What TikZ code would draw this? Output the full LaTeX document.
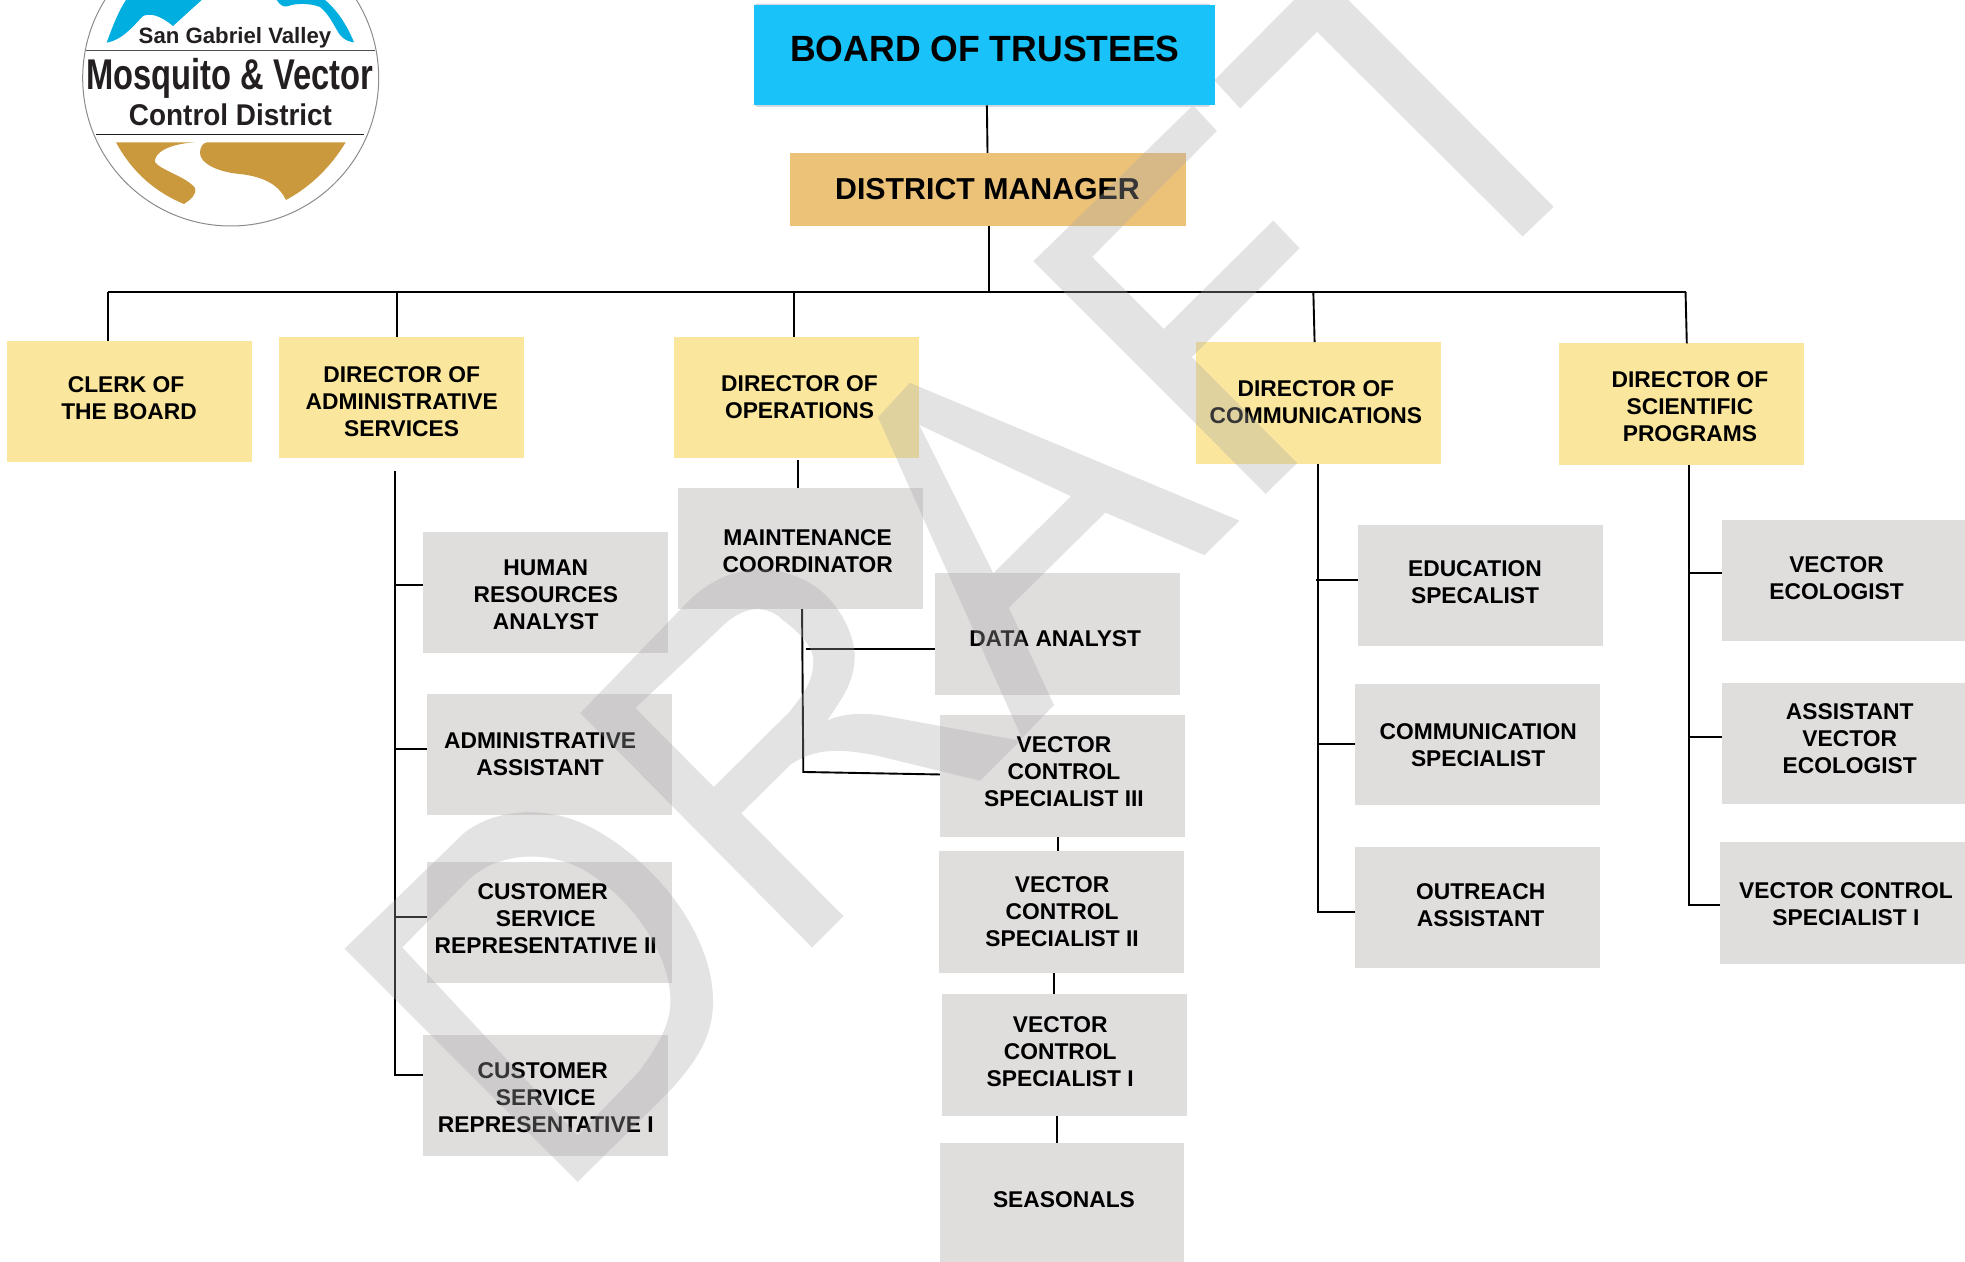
\documentclass[tikz,border=0pt]{standalone}
\usepackage{fontspec}
\setmainfont{Liberation Sans}
\definecolor{boardblue}{HTML}{19C3FA}
\definecolor{boardedge}{HTML}{CFD8E3}
\definecolor{mgrgold}{HTML}{ECC278}
\definecolor{diryellow}{HTML}{FAE69C}
\definecolor{staffgray}{HTML}{E0DDDD}
\definecolor{wmgray}{HTML}{A8A8A8}
\definecolor{logoblue}{HTML}{00AEDF}
\definecolor{logogold}{HTML}{CB993D}
\definecolor{logoink}{HTML}{231F20}
\tikzset{
  orgbase/.style={rectangle,inner sep=0pt,outer sep=0pt},
  boardbox/.style={orgbase,fill=boardblue},
  mgrbox/.style={orgbase,fill=mgrgold},
  dirbox/.style={orgbase,fill=diryellow},
  staffbox/.style={orgbase,fill=staffgray},
  lbl/.style={inner sep=0pt,align=center,yshift=-0.9pt,font=\bfseries\fontsize{22.8}{27}\selectfont,text=black},
  bigl/.style={lbl,font=\bfseries\fontsize{36.5}{40}\selectfont,xscale=.975},
  midl/.style={lbl,font=\bfseries\fontsize{30.3}{34}\selectfont},
  link/.style={draw=black,line width=1.9pt},
  buslink/.style={draw=black,line width=2.3pt},
  wm/.style={fill=wmgray,fill opacity=.32,even odd rule},
}
% name, x1,y1,x2,y2, box style, text style, tx,ty, text
\newcommand{\orgbox}[9]{%
  \pgfmathsetmacro{\bw}{(#4-#2)*1.2532}%
  \pgfmathsetmacro{\bh}{(#5-#3)*1.2532}%
  \pgfmathsetmacro{\bx}{(#2+#4)/2}%
  \pgfmathsetmacro{\by}{(#3+#5)/2}%
  \node[#6,minimum width=\bw pt,minimum height=\bh pt] (#1) at (\bx,\by) {};%
  \node[#7] (#1-t) at (#8,#9)}
\begin{document}
\begin{tikzpicture}[x=1.2532pt,y=-1.2532pt]
\useasboundingbox (0,0) rectangle (1568,1007);
\fill[white] (0,0) rectangle (1568,1007);

% logo (coordinates in reference pixels)
\begin{scope}[x=1pt,y=-1pt]
\clip (0,0) rectangle (500,300);
\node[circle,draw=black!45,line width=1pt,fill=white,minimum size=296pt,inner sep=0pt] (logo) at (230.7,78) {};
\fill[logoblue] (106.7,42.7) .. controls (121.7,40) and (131.7,28) .. (143,16)
  .. controls (150,13) and (160,15) .. (173,26) -- (201.7,0) -- (126,0) .. controls (118,12) and (112,28) .. (106.7,42.7) -- cycle;
\fill[logoblue] (276.7,0) .. controls (280,5) and (283,7) .. (287,6.5) .. controls (295,3) and (310,3) .. (320,7)
  .. controls (330,15) and (335,28) .. (340,35) .. controls (344,40) and (350,42) .. (354,42.3) .. controls (347,25) and (337,10) .. (325,0) -- cycle;
\fill[logogold] (116,142.3) -- (195,142.3) .. controls (168,144) and (154,153) .. (155,162)
  .. controls (160,170) and (187,177) .. (195,188) .. controls (197,195) and (190,200) .. (184,204)
  .. controls (155,192) and (132,172) .. (116,142.3) -- cycle;
\fill[logogold] (207,142.3) -- (345.7,142.3) .. controls (330,168) and (310,187) .. (286,200)
  .. controls (280,187) and (267,177) .. (240,174) .. controls (217,172) and (200,163) .. (200,153)
  .. controls (200,147) and (203,143) .. (207,142.3) -- cycle;
\coordinate (la) at (86,50.5); \coordinate (lb) at (375,50.5);
\coordinate (lc) at (96,134.5); \coordinate (ld) at (364,134.5);
\draw[black!70,line width=1.2pt] (la) -- (lb);
\draw[logoink,line width=1.2pt] (lc) -- (ld);
\node[inner sep=0pt,font=\bfseries\fontsize{22.2}{26}\selectfont,text=logoink] (logo1) at (235,37.5) {San Gabriel Valley};
\node[inner sep=0pt,font=\bfseries\fontsize{43}{46}\selectfont,text=logoink,xscale=.76] (logo2) at (230,78) {Mosquito \& Vector};
\node[inner sep=0pt,font=\bfseries\fontsize{30}{32}\selectfont,text=logoink,xscale=.93] (logo3) at (230.5,115) {Control District};
\end{scope}

% boxes and texts
\orgbox{dm}{630.5}{122}{946}{180}{mgrbox}{midl}{788}{150} {DISTRICT MANAGER};
\orgbox{clerk}{5.5}{272}{201}{368.5}{dirbox}{lbl}{103}{317} {CLERK OF\hspace*{6pt}\\THE BOARD};
\orgbox{admin}{223}{269}{418}{365.5}{dirbox}{lbl}{320.5}{320} {DIRECTOR OF\\ADMINISTRATIVE\\SERVICES};
\orgbox{ops}{538}{269}{733}{365.5}{dirbox}{lbl}{638}{316} {DIRECTOR OF\\OPERATIONS};
\orgbox{comm}{954}{273}{1150}{370.5}{dirbox}{lbl}{1050}{320} {DIRECTOR OF\\COMMUNICATIONS};
\orgbox{sci}{1244}{274}{1439.5}{371}{dirbox}{lbl}{1348.5}{324} {DIRECTOR OF\\SCIENTIFIC\\PROGRAMS};
\orgbox{hr}{337.5}{424.5}{533}{521}{staffbox}{lbl}{435.5}{474} {HUMAN\\RESOURCES\\ANALYST};
\orgbox{aa}{341}{554}{536}{650}{staffbox}{lbl}{431}{601} {ADMINISTRATIVE\\ASSISTANT};
\orgbox{csrb}{341}{688}{536}{784}{staffbox}{lbl}{435.5}{732.5} {CUSTOMER\hspace*{6pt}\\SERVICE\\REPRESENTATIVE II};
\orgbox{csra}{337.5}{826}{533}{922.5}{staffbox}{lbl}{435.5}{875} {CUSTOMER\hspace*{6pt}\\SERVICE\\REPRESENTATIVE I};
\orgbox{maint}{541}{389.5}{736.5}{486}{staffbox}{lbl}{644.5}{439} {MAINTENANCE\\COORDINATOR};
\orgbox{data}{746}{457.5}{941.5}{554.5}{staffbox}{lbl}{842}{508.5} {DATA ANALYST};
\orgbox{vcsc}{750}{570.5}{945.5}{667.5}{staffbox}{lbl}{849}{615} {VECTOR\\CONTROL\\SPECIALIST III};
\orgbox{vcsb}{749.5}{679}{944.5}{776.5}{staffbox}{lbl}{847.5}{727} {VECTOR\\CONTROL\\SPECIALIST II};
\orgbox{vcsa}{752}{793}{947}{890.5}{staffbox}{lbl}{846}{838.5} {VECTOR\\CONTROL\\SPECIALIST I};
\orgbox{seas}{750}{912}{945}{1007}{staffbox}{lbl}{849}{956.5} {SEASONALS};
\orgbox{edu}{1084}{419}{1279}{515.5}{staffbox}{lbl}{1177}{464} {EDUCATION\\SPECALIST};
\orgbox{csp}{1081}{546}{1277}{642}{staffbox}{lbl}{1179.5}{594} {COMMUNICATION\\SPECIALIST};
\orgbox{outr}{1081}{676}{1277}{772.5}{staffbox}{lbl}{1181.5}{721.5} {OUTREACH\\ASSISTANT};
\orgbox{veco}{1374}{415}{1568}{511.5}{staffbox}{lbl}{1465.5}{460.5} {VECTOR\\ECOLOGIST};
\orgbox{aveco}{1374}{545}{1568}{641.5}{staffbox}{lbl}{1476}{588.5} {ASSISTANT\\VECTOR\\ECOLOGIST};
\orgbox{vcsf}{1372.5}{672}{1568}{769}{staffbox}{lbl}{1473}{721} {VECTOR CONTROL\\SPECIALIST I};

% bus coordinates
\coordinate (busl) at (86,233);
\coordinate (busr) at (1345,233);
\coordinate (busm) at (789.5,233);
\coordinate (busa) at (316.5,233);
\coordinate (buso) at (633.5,233);
\coordinate (busc) at (1048,233);

\draw[buslink] (busl) -- (busr);
\draw[link] (789.5,0 |- dm.south) -- (busm);
\draw[link] (busl) -- (86,0 |- clerk.north);
\draw[link] (busa) -- (316.5,0 |- admin.north);
\draw[link] (buso) -- (633.5,0 |- ops.north);
\draw[link] (busc) -- (1049,0 |- comm.north);
\draw[link] (busr) -- (1346,0 |- sci.north);

% administration branch
\coordinate (sa0) at (315.5,376);
\coordinate (sa1) at (315.5,467);
\coordinate (sa2) at (315.5,598);
\coordinate (sa3) at (315.5,732);
\coordinate (sa4) at (315.5,858);
\draw[link] (sa0) -- (sa4) -- (sa4 -| csra.west);
\draw[link] (sa1) -- (sa1 -| hr.west);
\draw[link] (sa2) -- (sa2 -| aa.west);
\draw[link] (sa3) -- (sa3 -| csrb.west);

% operations branch
\draw[link] (636.5,367) -- (636.5,0 |- maint.north);
\coordinate (so1) at (640,0 |- maint.south);
\coordinate (so2) at (641,616);
\coordinate (so3) at (643,518);
\draw[link] (so1) -- (so2) -- (750,618);
\draw[buslink] (so3) -- (so3 -| data.west);
\draw[link] (844,0 |- vcsc.south) -- (844,0 |- vcsb.north);
\draw[link] (841,0 |- vcsb.south) -- (841,0 |- vcsa.north);
\draw[link] (843.5,0 |- vcsa.south) -- (843.5,0 |- seas.north);

% communications branch
\coordinate (sc0) at (1051.5,0 |- comm.south);
\coordinate (sc1) at (1050,463);
\coordinate (sc2) at (1051.5,594);
\coordinate (sc3) at (1051.5,728);
\draw[link] (sc0) -- (sc3) -- (sc3 -| outr.west);
\draw[link] (sc1) -- (sc1 -| edu.west);
\draw[link] (sc2) -- (sc2 -| csp.west);

% science branch
\coordinate (ss0) at (1347.5,0 |- sci.south);
\coordinate (ss1) at (1347.5,457);
\coordinate (ss2) at (1347.5,588);
\coordinate (ss3) at (1347.5,722);
\draw[link] (ss0) -- (ss3) -- (ss3 -| vcsf.west);
\draw[link] (ss1) -- (ss1 -| veco.west);
\draw[link] (ss2) -- (ss2 -| aveco.west);

% watermark
\fill[wm] (275,757) -- (370,665) .. controls (395,645) and (440,640) .. (480,665)
   .. controls (530,695) and (569,750) .. (569,799) .. controls (569,830) and (552,852) .. (530,875) -- (461,943) -- cycle
   (321,756) -- (372,704) .. controls (395,680) and (440,675) .. (475,700)
   .. controls (510,725) and (535,765) .. (535,799) .. controls (535,820) and (522,838) .. (510,855) -- (461,906) -- cycle;
\fill[wm] (463,569) -- (550,479) .. controls (575,455) and (610,445) .. (646,465)
   .. controls (668,478) and (682,505) .. (682,524) .. controls (682,545) and (670,560) .. (660,575)
   .. controls (675,568) and (695,569) .. (710,572) -- (814,591) -- (782,623) -- (700,603)
   .. controls (670,597) and (650,597) .. (631,610) -- (591.5,649) -- (673,731) -- (648,756) -- cycle
   (507,565) -- (574,502) .. controls (590,485) and (610,480) .. (625,495)
   .. controls (645,510) and (649,520) .. (649,527) .. controls (649,545) and (640,555) .. (630,568) -- (569.6,628) -- cycle;
\fill[wm] (700.6,333) -- (726,305.5) -- (989,415.5) -- (961,443) -- (882,409) -- (805,485) -- (841,562.6) -- (815.5,589) -- cycle
   (733.5,339) -- (854.6,396) -- (792.6,457.5) -- cycle;
\fill[wm] (824.6,208.5) -- (952,84) -- (971,104.5) -- (871.5,205) -- (928.7,262.6) -- (1016,176) -- (1037,198)
   -- (951,285) -- (1035,369.5) -- (1010,394) -- cycle;
\fill[wm] (969,64) -- (1032.6,0) -- (1076,0) -- (1239.7,165) -- (1215,188.7) -- (1051,25.4) -- (989.6,86.5) -- cycle;

% board on top
\fill[boardedge,rounded corners=3pt] (602,2.8) rectangle (966,85.2);
\orgbox{board}{602}{4}{969.5}{84}{boardbox}{bigl}{786}{38} {BOARD OF TRUSTEES};
\draw[link] (787.5,0 |- board.south) -- (788,0 |- dm.north);
\end{tikzpicture}
\end{document}
